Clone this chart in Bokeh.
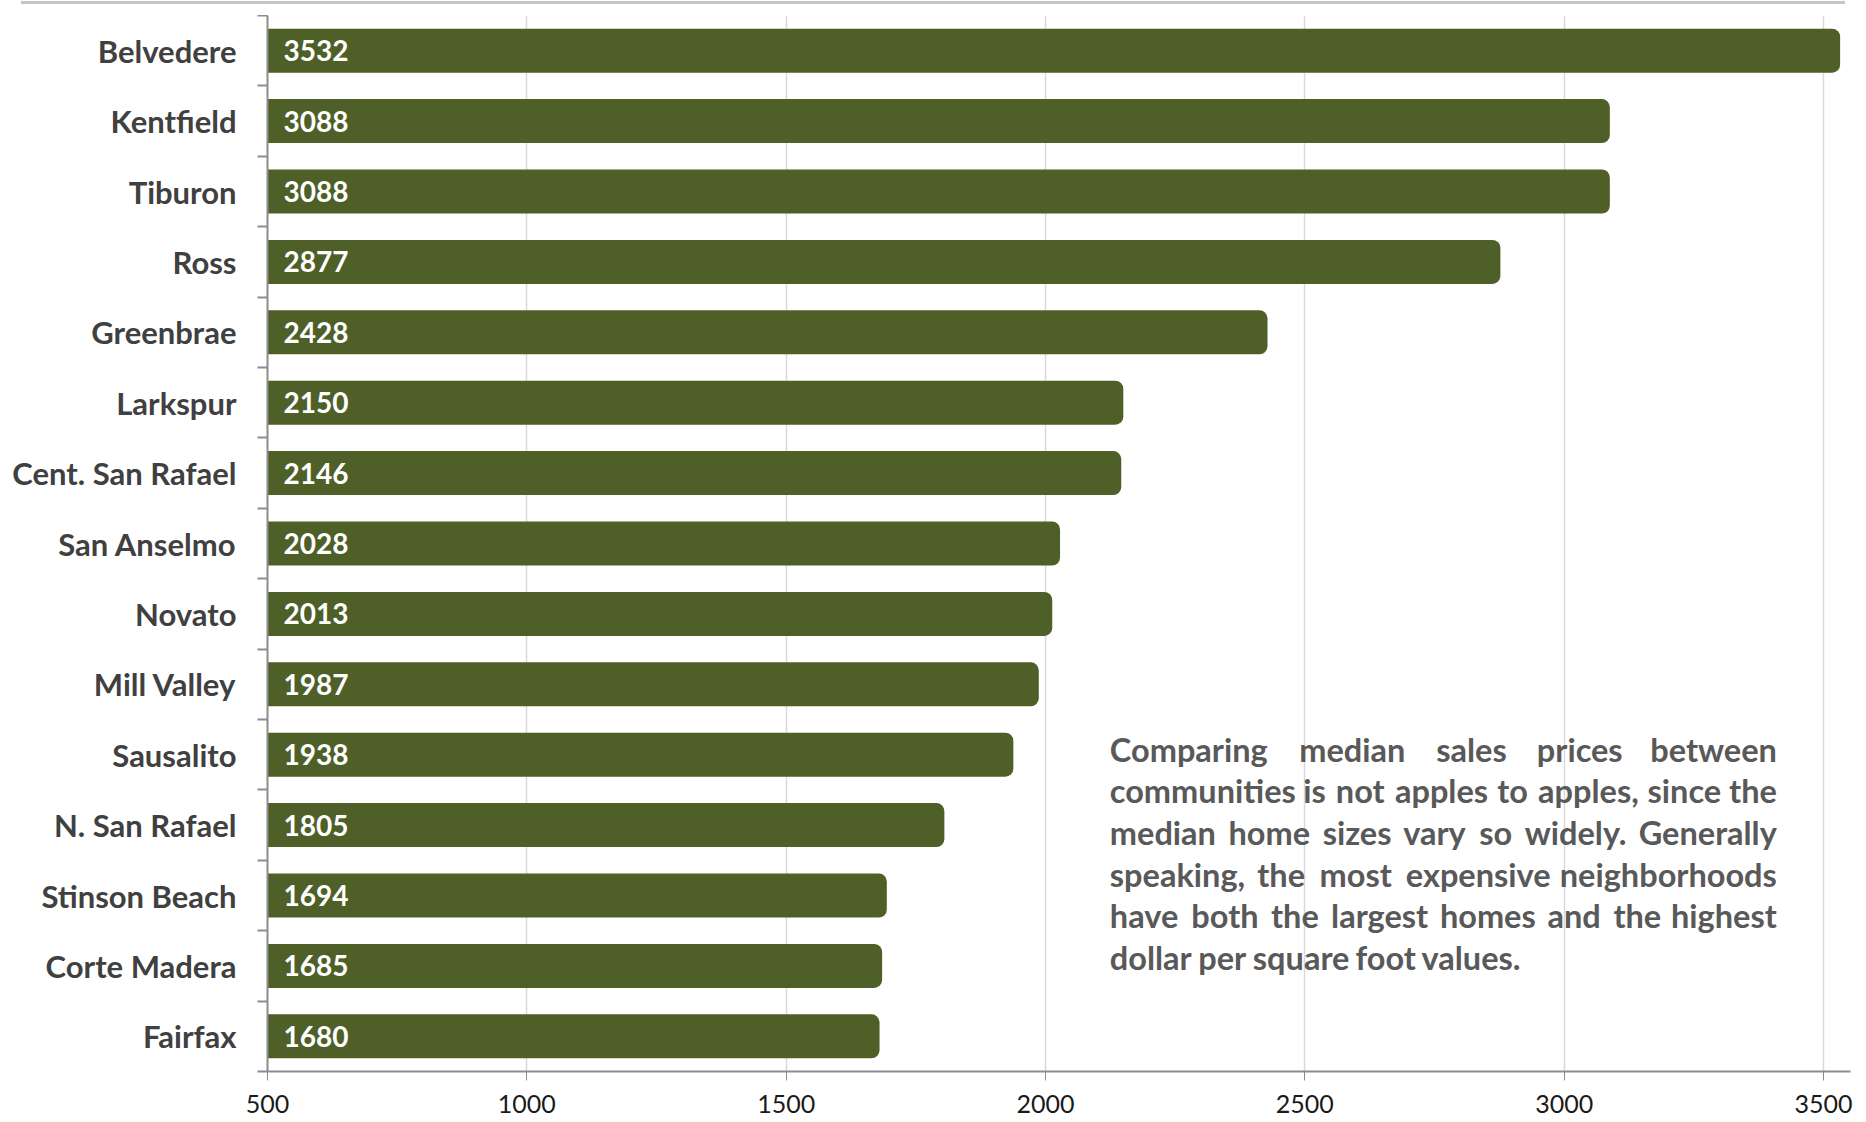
from bokeh.plotting import figure
from bokeh.layouts import column
from bokeh.models import ColumnDataSource, FixedTicker, Div
from bokeh.core.properties import value
from bokeh.embed import file_html
from bokeh.resources import INLINE

# ---- data ----
communities = ["Belvedere", "Kentfield", "Tiburon", "Ross", "Greenbrae", "Larkspur",
               "Cent. San Rafael", "San Anselmo", "Novato", "Mill Valley", "Sausalito",
               "N. San Rafael", "Stinson Beach", "Corte Madera", "Fairfax"]
home_size = [3532, 3088, 3088, 2877, 2428, 2150, 2146, 2028, 2013, 1987, 1938,
             1805, 1694, 1685, 1680]
x_ticks = [500, 1000, 1500, 2000, 2500, 3000, 3500]
note_lines = [
    "Comparing median sales prices between",
    "communities is not apples to apples, since the",
    "median home sizes vary so widely. Generally",
    "speaking, the most expensive neighborhoods",
    "have both the largest homes and the highest",
    "dollar per square foot values.",
]

FONT = "Lato"
BAR = "#4E5F28"
X0, X1 = 500, 3552

n = len(communities)
ypos = [n - 1 - i for i in range(n)]
src = ColumnDataSource(dict(name=communities, size=home_size, y=ypos,
                            lab=[str(v) for v in home_size],
                            x0=[X0] * n))

# thin grey rule at the very top
rule = Div(text="", width=1824, height=3, margin=(1, 0, 11, 21),
           styles={"background-color": "#c4c4c4"})

p = figure(width=1866, height=1107, output_backend="svg", toolbar_location=None,
           x_range=(X0, X1), y_range=(-0.5, n - 0.5),
           min_border_left=267, min_border_right=16, min_border_top=0,
           min_border_bottom=51)
p.outline_line_color = None
p.background_fill_color = "white"
p.border_fill_color = "white"

p.hbar(y="y", left="x0", right="size", height=0.625, source=src,
       fill_color=BAR, line_color=None, border_radius=(0, 8, 8, 0))

p.text(x="x0", y="y", text="lab", source=src, x_offset=16,
       text_font=value(FONT), text_font_style="bold", text_font_size="28px",
       text_color="white", text_align="left", text_baseline="middle")

# x axis
p.xaxis.ticker = FixedTicker(ticks=x_ticks)
p.xaxis.axis_line_color = "#8c8c8c"
p.xaxis.axis_line_width = 2
p.xaxis.major_tick_line_color = "#8c8c8c"
p.xaxis.major_tick_out = 9
p.xaxis.major_tick_in = 0
p.xaxis.minor_tick_line_color = None
p.xaxis.major_label_text_font = FONT
p.xaxis.major_label_text_font_size = "25px"
p.xaxis.major_label_text_color = "#1a1a1a"
p.xaxis.major_label_standoff = 14

# y axis: labels at centres, tick marks at boundaries
p.yaxis.ticker = FixedTicker(ticks=ypos, minor_ticks=[k - 0.5 for k in range(n + 1)])
p.yaxis.major_label_overrides = {y: nm for y, nm in zip(ypos, communities)}
p.yaxis.axis_line_color = "#8c8c8c"
p.yaxis.axis_line_width = 2
p.yaxis.major_tick_line_color = None
p.yaxis.major_tick_out = 0
p.yaxis.major_tick_in = 0
p.yaxis.minor_tick_line_color = "#8c8c8c"
p.yaxis.minor_tick_line_width = 2
p.yaxis.minor_tick_out = 10
p.yaxis.minor_tick_in = 0
p.yaxis.major_label_text_font = FONT
p.yaxis.major_label_text_font_style = "bold"
p.yaxis.major_label_text_font_size = "31px"
p.yaxis.major_label_text_color = "#404040"
p.yaxis.major_label_standoff = 21

p.xgrid.ticker = FixedTicker(ticks=x_ticks)
p.xgrid.grid_line_color = "#d9d9d9"
p.xgrid.grid_line_width = 1.5
p.ygrid.grid_line_color = None

# justified note text
CW = {' ': 0.22, ',': 0.22, '.': 0.22, 'a': 0.50, 'b': 0.56, 'c': 0.45, 'd': 0.56,
      'e': 0.52, 'f': 0.33, 'g': 0.51, 'h': 0.56, 'i': 0.25, 'j': 0.25, 'k': 0.52,
      'l': 0.25, 'm': 0.84, 'n': 0.56, 'o': 0.56, 'p': 0.56, 'q': 0.56, 'r': 0.38,
      's': 0.42, 't': 0.36, 'u': 0.56, 'v': 0.52, 'w': 0.78, 'x': 0.51, 'y': 0.52,
      'z': 0.45, 'C': 0.68, 'G': 0.74}
FS = 32.5
NOTE_W = 667
note_x = 2124
note_y0 = 4.08
line_step = 0.592

def wwidth(w):
    return sum(CW.get(ch, 0.55) for ch in w) * FS

wx, wy, wt, wo, wa = [], [], [], [], []
for li, line in enumerate(note_lines):
    words = line.split()
    yv = note_y0 - li * line_step
    last = li == len(note_lines) - 1
    widths = [wwidth(w) for w in words]
    if last or len(words) == 1:
        gap = CW[' '] * FS
    else:
        gap = (NOTE_W - sum(widths)) / (len(words) - 1)
    cur = 0.0
    for k, (w, ww) in enumerate(zip(words, widths)):
        wx.append(note_x)
        wy.append(yv)
        wt.append(w)
        if (not last) and k == len(words) - 1 and len(words) > 1:
            wo.append(NOTE_W)
            wa.append("right")
        else:
            wo.append(cur)
            wa.append("left")
        cur += ww + gap

nsrc = ColumnDataSource(dict(x=wx, y=wy, t=wt, o=wo, a=wa))
p.text(x="x", y="y", text="t", x_offset="o", text_align="a", source=nsrc,
       text_font=value(FONT), text_font_style="bold", text_font_size=f"{FS}px",
       text_color="#595959", text_baseline="middle")

layout = column(rule, p, spacing=0)
open("out.html", "w").write(file_html(layout, INLINE))
